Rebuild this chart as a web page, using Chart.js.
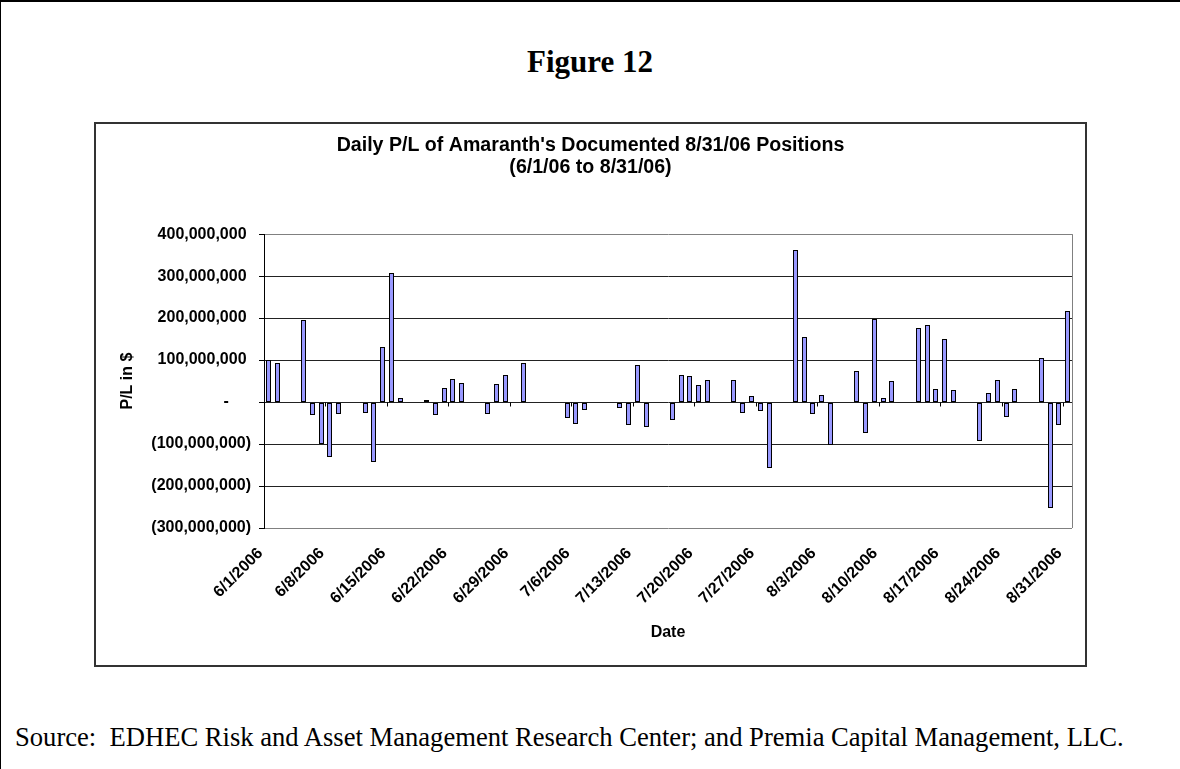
<!DOCTYPE html>
<html>
<head>
<meta charset="utf-8">
<script src="https://cdn.jsdelivr.net/npm/chart.js@4.4.1/dist/chart.umd.min.js"></script>
<style>
  body { margin: 0; background: #fff; width: 1180px; height: 769px; overflow: hidden; position: relative; }
  #topLine { position: absolute; left: 0; top: 0; width: 1180px; height: 2px; background: #000; }
  #leftLine { position: absolute; left: 0; top: 0; width: 1px; height: 769px; background: #000; }
  #fig { position: absolute; left: 0; top: 46px; width: 1180px; text-align: center;
         font: bold 31px/31px "Liberation Serif", "Times New Roman", serif; color: #000; }
  #box { position: absolute; left: 94px; top: 122px; width: 993px; height: 545px;
         box-sizing: border-box; border: 2px solid #333; background: #fff; }
  #box canvas { display: block; }
  #source { position: absolute; left: 15px; top: 722px; white-space: nowrap;
            font: 26.6px/30px "Liberation Serif", "Times New Roman", serif; color: #000; }
</style>
</head>
<body>
<div id="topLine"></div>
<div id="leftLine"></div>
<div id="fig">Figure 12</div>
<div id="box"><canvas id="myChart" width="989" height="541"></canvas></div>
<div id="source">Source:&nbsp; EDHEC Risk and Asset Management Research Center; and Premia Capital Management, LLC.</div>
<script>
// calendar days, one week per row
var days = [
  "6/1/2006", "6/2/2006", "6/3/2006", "6/4/2006", "6/5/2006", "6/6/2006", "6/7/2006",
  "6/8/2006", "6/9/2006", "6/10/2006", "6/11/2006", "6/12/2006", "6/13/2006", "6/14/2006",
  "6/15/2006", "6/16/2006", "6/17/2006", "6/18/2006", "6/19/2006", "6/20/2006", "6/21/2006",
  "6/22/2006", "6/23/2006", "6/24/2006", "6/25/2006", "6/26/2006", "6/27/2006", "6/28/2006",
  "6/29/2006", "6/30/2006", "7/1/2006", "7/2/2006", "7/3/2006", "7/4/2006", "7/5/2006",
  "7/6/2006", "7/7/2006", "7/8/2006", "7/9/2006", "7/10/2006", "7/11/2006", "7/12/2006",
  "7/13/2006", "7/14/2006", "7/15/2006", "7/16/2006", "7/17/2006", "7/18/2006", "7/19/2006",
  "7/20/2006", "7/21/2006", "7/22/2006", "7/23/2006", "7/24/2006", "7/25/2006", "7/26/2006",
  "7/27/2006", "7/28/2006", "7/29/2006", "7/30/2006", "7/31/2006", "8/1/2006", "8/2/2006",
  "8/3/2006", "8/4/2006", "8/5/2006", "8/6/2006", "8/7/2006", "8/8/2006", "8/9/2006",
  "8/10/2006", "8/11/2006", "8/12/2006", "8/13/2006", "8/14/2006", "8/15/2006", "8/16/2006",
  "8/17/2006", "8/18/2006", "8/19/2006", "8/20/2006", "8/21/2006", "8/22/2006", "8/23/2006",
  "8/24/2006", "8/25/2006", "8/26/2006", "8/27/2006", "8/28/2006", "8/29/2006", "8/30/2006",
  "8/31/2006"
];

// daily P/L in millions of $, null = no trading
var pnlMillions = [
  100, 92, null, null, 195, -32, -100,
  -132, -28, null, null, -25, -143, 130,
  308, 10, null, null, 6, -32, 33,
  56, 46, null, null, -28, 42, 64,
  null, 92, null, null, null, null, -39,
  -53, -18, null, null, -3, -14, -54,
  88, -60, null, null, -43, 64, 61,
  40, 53, null, null, 53, -25, 15,
  -21, -158, null, null, 363, 156, -28,
  17, -103, null, null, 74, -74, 199,
  10, 50, null, null, 177, 184, 32,
  150, 29, null, null, -92, 21, 53,
  -35, 31, null, null, 106, -253, -54,
  216
];

var tickDates = [
  "6/1/2006", "6/8/2006", "6/15/2006", "6/22/2006", "6/29/2006", "7/6/2006", "7/13/2006",
  "7/20/2006", "7/27/2006", "8/3/2006", "8/10/2006", "8/17/2006", "8/24/2006", "8/31/2006"
];

var FONT = "'Liberation Sans', Arial, sans-serif";

function money(v) {
  var n = Math.abs(v * 1000000).toLocaleString("en-US");
  if (v > 0) return n + " ";
  if (v < 0) return "(" + n + ")";
  return "-     ";
}

// gray frame on the right, pixel-snapped bars, small date ticks on the zero line
var plotFrame = {
  id: "plotFrame",
  beforeDatasetsDraw: function (chart) {
    var ctx = chart.ctx, a = chart.chartArea;
    ctx.save();
    ctx.strokeStyle = "#808080";
    ctx.lineWidth = 1;
    ctx.beginPath();
    ctx.moveTo(Math.round(a.right) + 0.5, a.top);
    ctx.lineTo(Math.round(a.right) + 0.5, a.bottom);
    ctx.stroke();
    ctx.restore();

    chart.getDatasetMeta(0).data.forEach(function (bar) {
      bar.x = Math.floor(bar.x) + 0.5;
      bar.width = 5;
      bar.y = Math.round(bar.y);
      bar.base = Math.round(bar.base);
    });
  },
  afterDatasetsDraw: function (chart) {
    var ctx = chart.ctx, x = chart.scales.x, y = chart.scales.y;
    var y0 = Math.round(y.getPixelForValue(0)) + 0.5;
    var half = (x.getPixelForValue(1) - x.getPixelForValue(0)) / 2;
    ctx.save();
    ctx.strokeStyle = "#000";
    ctx.lineWidth = 1;
    ctx.beginPath();
    for (var i = 0; i < days.length; i++) {
      if (tickDates.indexOf(days[i]) < 0 || i == 0) continue;
      var px = Math.round(x.getPixelForValue(i) - half) + 0.5;
      ctx.moveTo(px, y0);
      ctx.lineTo(px, y0 + 4);
    }
    ctx.stroke();
    ctx.restore();
  }
};

const ctx = document.getElementById("myChart");
const myChart = new Chart(ctx, {
  type: "bar",
  data: {
    labels: days,
    datasets: [
      {
        label: "Daily P/L",
        data: pnlMillions,
        backgroundColor: "#9999FF",
        borderColor: "#000",
        borderWidth: 1,
        borderSkipped: false,
        inflateAmount: 0,
        barPercentage: 0.6,
        categoryPercentage: 1.0,
      },
    ],
  },
  options: {
    responsive: false,
    animation: false,
    layout: { padding: 0 },
    plugins: {
      legend: { display: false },
      tooltip: { enabled: false },
      title: {
        display: true,
        text: ["Daily P/L of Amaranth's Documented 8/31/06 Positions", "(6/1/06 to 8/31/06)"],
        color: "#000",
        font: { family: FONT, size: 19.6, weight: "bold", lineHeight: 1.1 },
        padding: { top: 11, bottom: 56 },
      },
    },
    scales: {
      x: {
        grid: { display: false, drawTicks: false },
        border: { display: false },
        ticks: {
          autoSkip: false,
          minRotation: 45,
          maxRotation: 45,
          padding: 16,
          labelOffset: -8,
          color: "#000",
          font: { family: FONT, size: 16, weight: "bold" },
          callback: function (val, i) {
            return tickDates.indexOf(days[i]) >= 0 ? days[i] : "";
          },
        },
        title: {
          display: true,
          text: "Date",
          color: "#000",
          font: { family: FONT, size: 16, weight: "bold" },
          padding: { top: 0, bottom: 23 },
        },
        afterFit: function (s) {
          s.height = 137;
          s.paddingLeft = 0;
          s.paddingRight = 13;
        },
      },
      y: {
        min: -300,
        max: 400,
        ticks: {
          stepSize: 100,
          padding: 8,
          color: "#000",
          font: { family: FONT, size: 16, weight: "bold" },
          callback: function (v) { return money(v); },
        },
        grid: {
          color: function (c) {
            var v = c.tick ? c.tick.value : 0;
            return v == 400 || v == -300 ? "#808080" : "#222";
          },
          tickColor: "#000",
          tickLength: 5,
        },
        border: { display: true, color: "#000" },
        title: {
          display: true,
          text: "P/L in $",
          color: "#000",
          font: { family: FONT, size: 16, weight: "bold" },
          padding: { top: 22, bottom: 0 },
        },
        afterFit: function (s) { s.width = 168; },
      },
    },
  },
  plugins: [plotFrame],
});
</script>
</body>
</html>
